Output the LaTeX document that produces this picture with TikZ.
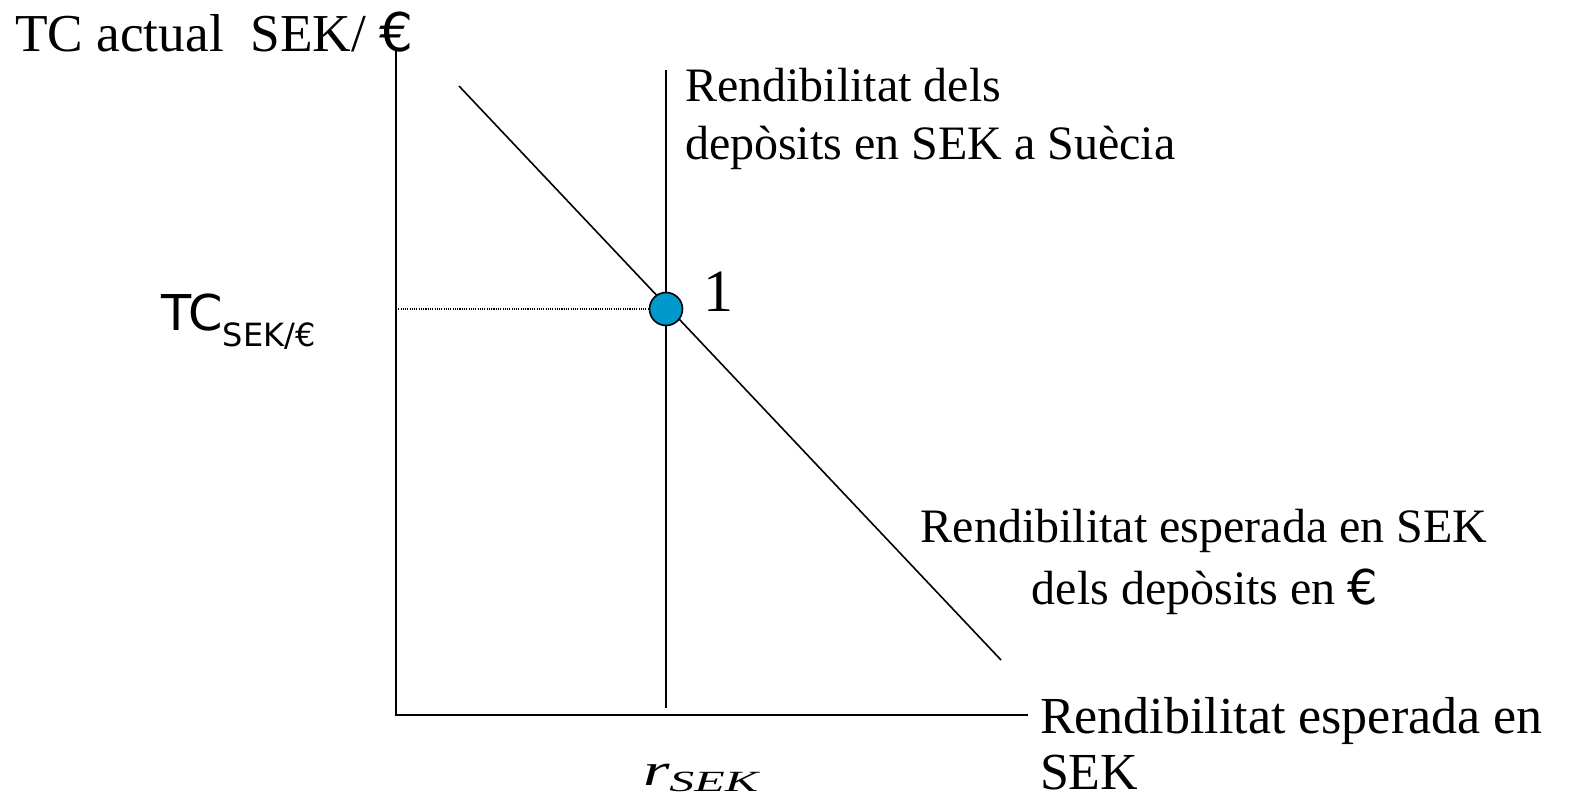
\documentclass[tikz,border=0pt]{standalone}
\usepackage{fontspec}
\setmainfont{Liberation Serif}
\newfontfamily\tah{DejaVu Sans}
\begin{document}
\begin{tikzpicture}[x=0.75pt,y=-0.75pt,
  lbl/.style={anchor=base west, inner sep=0pt, outer sep=0pt},
  clbl/.style={anchor=base, inner sep=0pt, outer sep=0pt},
  axisline/.style={line width=1.2pt, black},
  curve/.style={line width=1.2pt, black},
  guide/.style={line width=0.9pt, dash pattern=on 0.8pt off 0.9pt},
  eqpt/.style={circle, draw=black, line width=1.2pt, fill={rgb,255:red,0;green,153;blue,204}, minimum size=24.75pt, inner sep=0pt}]
\useasboundingbox (0,0) rectangle (1569,798);
% coordinates
\coordinate (O) at (396,715);
\coordinate (ytop) at (396,50);
\coordinate (xend) at (1028,715);
\coordinate (vtop) at (666,70);
\coordinate (vbot) at (666,708);
\coordinate (dtop) at (459,86);
\coordinate (dbot) at (1001,660);
\coordinate (yE) at (396,309);
% axes
\draw[axisline] (ytop) -- (O) -- (xend);
% curves
\draw[curve] (vtop) -- (vbot);
\draw[curve] (dtop) -- (dbot);
% equilibrium
\node[eqpt] (E) at (666,309) {};
\draw[guide] (yE) -- (E.west);
\node[lbl, font=\fontsize{45}{54}\selectfont] (one) at (703,311) {1};
% labels
\node[lbl, font=\fontsize{40}{48}\selectfont] (ylab) at (15,52) {TC actual\ \ SEK/ {\tah €}};
\node[lbl, font=\tah\fontsize{37}{44}\selectfont] (tc) at (161,330) {TC{\fontsize{24}{28}\selectfont\raisebox{-12pt}{SEK/€}}};
\node[lbl, font=\itshape\fontsize{34}{40}\selectfont] (rsek) at (643,785) {\scalebox{1.5}[1]{r}{\fontsize{22}{26}\selectfont\raisebox{-5pt}{\scalebox{1.7}[1]{SEK}}}};
\node[lbl, font=\fontsize{36}{43}\selectfont] (A1) at (685,102) {Rendibilitat dels};
\node[lbl, font=\fontsize{36}{43}\selectfont] (A2) at (685,160) {depòsits en SEK a Suècia};
\node[clbl, font=\fontsize{36}{43}\selectfont] (B1) at (1204,542) {Rendibilitat esperada en SEK};
\node[clbl, font=\fontsize{36}{43}\selectfont] (B2) at (1205,604) {dels depòsits en {\tah €}};
\node[lbl, font=\fontsize{39}{47}\selectfont] (C1) at (1040,733) {Rendibilitat esperada en};
\node[lbl, font=\fontsize{39}{47}\selectfont] (C2) at (1040,789) {SEK};
\end{tikzpicture}
\end{document}
